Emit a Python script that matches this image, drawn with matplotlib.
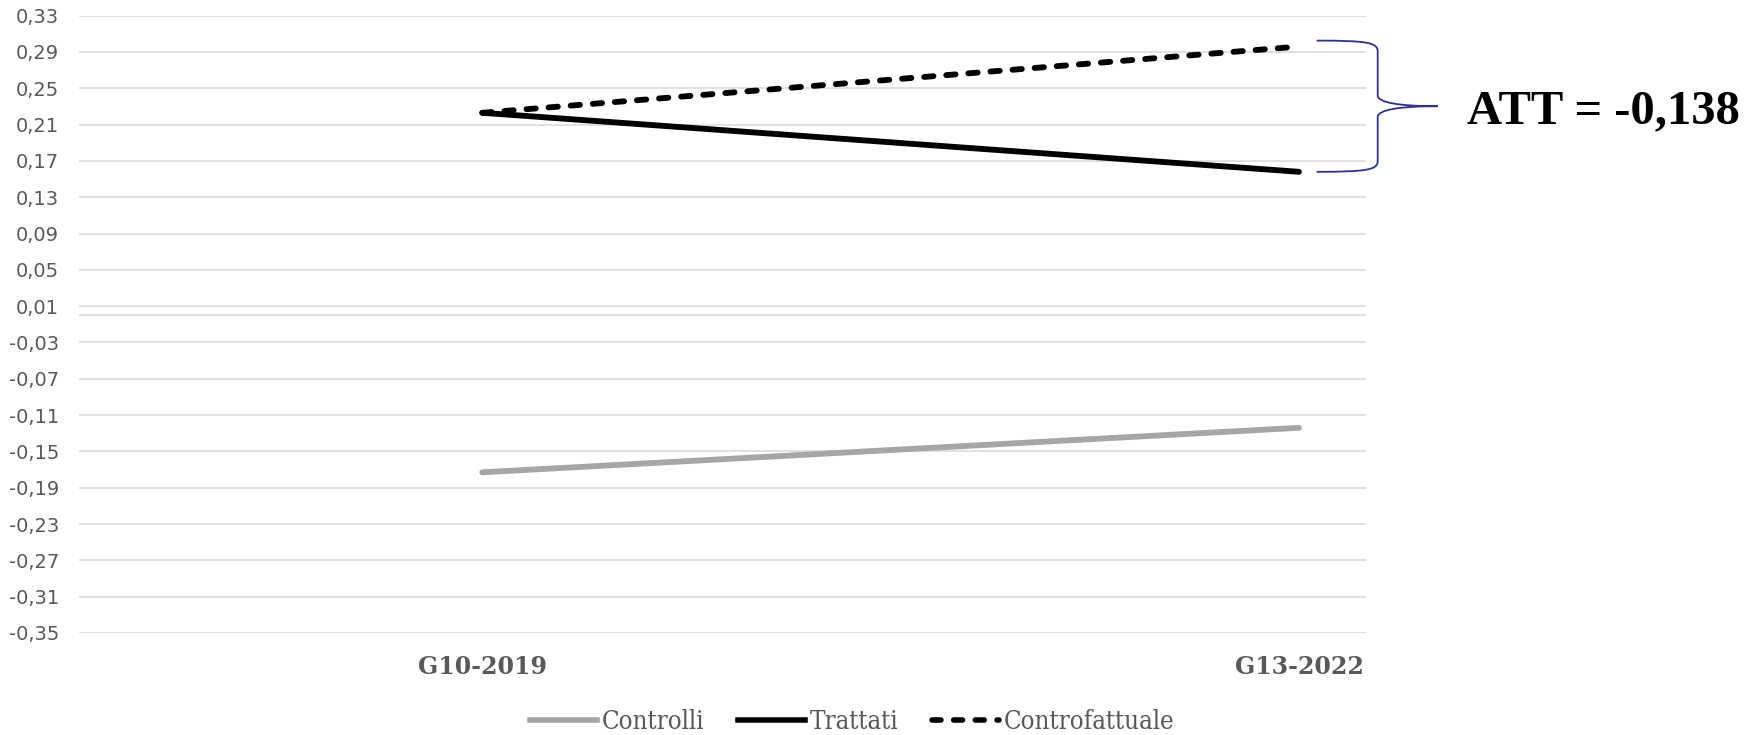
import numpy as np
import matplotlib
matplotlib.use('Agg')
import matplotlib.pyplot as plt
from matplotlib.lines import Line2D
from matplotlib.path import Path
from matplotlib.patches import PathPatch
from matplotlib.transforms import blended_transform_factory

#####
# Data
periods = ['G10-2019', 'G13-2022']
controlli = [-0.173, -0.124]
trattati = [0.223, 0.158]
controfattuale = [0.223, 0.296]
att_label = 'ATT = -0,138'
yticks = [0.33, 0.29, 0.25, 0.21, 0.17, 0.13, 0.09, 0.05, 0.01, -0.03,
          -0.07, -0.11, -0.15, -0.19, -0.23, -0.27, -0.31, -0.35]

####
# Plot
fig = plt.figure(figsize=(17.65, 7.35), dpi=100)
ax = fig.add_axes([0.0449, 0.1388, 0.7288, 0.8399])

x = np.arange(len(periods))
ax.plot(x, controlli, color='#a6a6a6', lw=4.2, solid_capstyle='round', label='Controlli', zorder=3)
ax.plot(x, trattati, color='black', lw=4.2, solid_capstyle='round', label='Trattati', zorder=4)
ax.plot(x, controfattuale, color='black', lw=4.2, dashes=(1.6, 2.2),
        dash_capstyle='round', label='Controfattuale', zorder=4)

ax.set_xlim(-0.4935, 1.0816)
ax.set_ylim(-0.35, 0.33)
ax.set_yticks(yticks)
ax.set_yticklabels([f'{v:.2f}'.replace('.', ',') for v in yticks])
ax.set_xticks(x)
ax.set_xticklabels(periods, fontfamily='DejaVu Serif', fontweight='bold',
                   fontsize=17, color='#595959')
ax.tick_params(axis='y', length=0, pad=14.5, labelsize=14, labelcolor='#595959')
ax.tick_params(axis='x', length=0, pad=16)
ax.yaxis.grid(True, color='#d9d9d9', lw=1.1)
ax.axhline(0, color='#d9d9d9', lw=1.1)
ax.set_axisbelow(True)
for s in ax.spines.values():
    s.set_visible(False)

# brace + ATT label
tr = blended_transform_factory(fig.transFigure, ax.transData)
xe, xs, xt = 1316.7 / 1765, 1377.7 / 1765, 1438 / 1765
y_top = controfattuale[1] + 0.0065
y_bot = trattati[1]
y_mid = (y_top + y_bot) / 2
verts = [(xe, y_top), (xs - 0.006, y_top), (xs, y_top - 0.002), (xs, y_top - 0.012),
         (xs, y_mid + 0.012),
         (xs, y_mid + 0.004), (xs + 0.012, y_mid), (xt, y_mid),
         (xs + 0.012, y_mid), (xs, y_mid - 0.004), (xs, y_mid - 0.012),
         (xs, y_bot + 0.012),
         (xs, y_bot + 0.002), (xs - 0.006, y_bot), (xe, y_bot)]
codes = [Path.MOVETO, Path.CURVE4, Path.CURVE4, Path.CURVE4, Path.LINETO,
         Path.CURVE4, Path.CURVE4, Path.CURVE4,
         Path.CURVE4, Path.CURVE4, Path.CURVE4, Path.LINETO,
         Path.CURVE4, Path.CURVE4, Path.CURVE4]
ax.add_patch(PathPatch(Path(verts, codes), transform=tr, facecolor='none',
                       edgecolor='#2e3192', lw=1.3, clip_on=False))
ax.text(1466.7 / 1765, y_mid - 0.006, att_label, transform=tr, ha='left', va='center',
        fontfamily='Liberation Serif', fontweight='bold', fontsize=35, clip_on=False)

# legend
handles = [Line2D([0], [0], color='#a6a6a6', lw=4),
           Line2D([0], [0], color='black', lw=4),
           Line2D([0], [0], color='black', lw=4, dashes=(1.6, 2.3), dash_capstyle='round')]
leg = fig.legend(handles, ['Controlli', 'Trattati', 'Controfattuale'], loc='center',
                 bbox_to_anchor=(0.483, 0.0181), ncol=3, frameon=False,
                 handlelength=2.6, handletextpad=0.2, columnspacing=1.3,
                 prop={'family': 'DejaVu Serif', 'stretch': 'condensed', 'size': 18.5})
for t in leg.get_texts():
    t.set_color('#595959')

plt.savefig('out.png', dpi=100)
